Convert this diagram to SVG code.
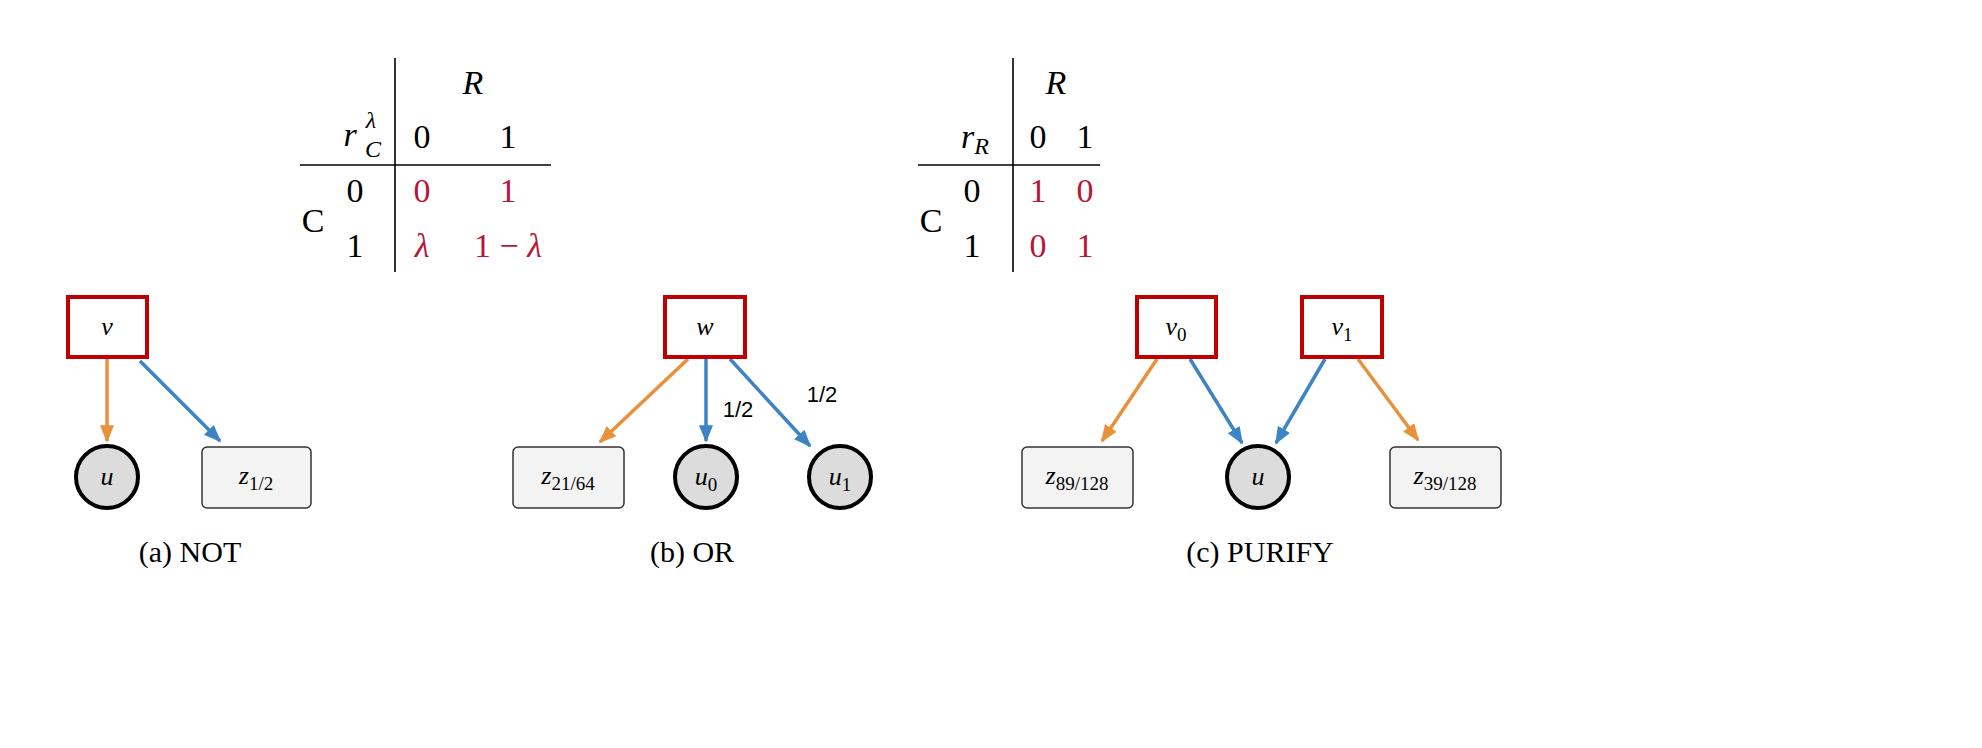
<svg xmlns="http://www.w3.org/2000/svg" width="1982" height="748" viewBox="0 0 1982 748">
<style>
text{font-family:"Liberation Serif","DejaVu Serif",serif;fill:#000;text-anchor:middle}
.t{font-size:34px}
.r{fill:#b5173a}
.i{font-style:italic}
.n{font-size:26px}
.s{font-size:19px;font-style:normal}
.cap{font-size:30px}
.lab{font-family:"Liberation Sans","DejaVu Sans",sans-serif;font-size:22px}
.ln{stroke:#000;stroke-width:1.6}
.red{fill:#fff;stroke:#c00000;stroke-width:4}
.circ{fill:#dcdcdc;stroke:#000;stroke-width:4}
.z{fill:#f3f3f3;stroke:#333;stroke-width:1.5}
.o{stroke:#e8913a;stroke-width:3.5;fill:none;marker-end:url(#ao)}
.b{stroke:#3c84c4;stroke-width:3.5;fill:none;marker-end:url(#ab)}
</style>
<defs>
<marker id="ao" viewBox="0 0 10 10" refX="9" refY="5" markerWidth="5" markerHeight="5" orient="auto" markerUnits="strokeWidth"><path d="M0,1 L10,5 L0,9 z" fill="#e8913a"/></marker>
<marker id="ab" viewBox="0 0 10 10" refX="9" refY="5" markerWidth="5" markerHeight="5" orient="auto" markerUnits="strokeWidth"><path d="M0,1 L10,5 L0,9 z" fill="#3c84c4"/></marker>
</defs>
<g id="table1">
<line class="ln" x1="395" y1="58" x2="395" y2="272"/>
<line class="ln" x1="300" y1="165" x2="551" y2="165"/>
<text class="t i" x="473" y="94">R</text>
<text class="t i" x="350" y="146">r</text>
<text class="i" x="371" y="128" font-size="24">λ</text>
<text class="i" x="373" y="157" font-size="24">C</text>
<text class="t" x="422" y="148">0</text>
<text class="t" x="508" y="148">1</text>
<text class="t" x="313" y="232">C</text>
<text class="t" x="355" y="202">0</text>
<text class="t" x="355" y="257">1</text>
<text class="t r" x="422" y="202">0</text>
<text class="t r" x="508" y="202">1</text>
<text class="t r i" x="422" y="257">λ</text>
<text class="t r" x="508" y="257">1 − <tspan font-style="italic">λ</tspan></text>
</g>
<g id="table2">
<line class="ln" x1="1013" y1="58" x2="1013" y2="272"/>
<line class="ln" x1="918" y1="165" x2="1100" y2="165"/>
<text class="t i" x="1056" y="94">R</text>
<text class="t i" x="975" y="148">r<tspan font-size="24" dy="6">R</tspan></text>
<text class="t" x="1038" y="148">0</text>
<text class="t" x="1085" y="148">1</text>
<text class="t" x="931" y="232">C</text>
<text class="t" x="972" y="202">0</text>
<text class="t" x="972" y="257">1</text>
<text class="t r" x="1038" y="202">1</text>
<text class="t r" x="1085" y="202">0</text>
<text class="t r" x="1038" y="257">0</text>
<text class="t r" x="1085" y="257">1</text>
</g>
<g id="connectors">
<line class="o" x1="107" y1="359" x2="107" y2="441"/>
<line class="b" x1="140" y1="361" x2="220" y2="441"/>
<line class="o" x1="688" y1="359" x2="600" y2="442"/>
<line class="b" x1="706" y1="359" x2="706" y2="441"/>
<line class="b" x1="730" y1="359" x2="810" y2="446"/>
<line class="o" x1="1157" y1="359" x2="1102" y2="441"/>
<line class="b" x1="1190" y1="359" x2="1242" y2="443"/>
<line class="b" x1="1325" y1="359" x2="1276" y2="443"/>
<line class="o" x1="1358" y1="359" x2="1418" y2="440"/>
<text class="lab" x="738" y="417">1/2</text>
<text class="lab" x="822" y="402">1/2</text>
</g>
<g id="v"><rect class="red" x="68" y="297" width="79" height="60"/><text class="n i" x="107" y="335">v</text></g>
<g id="u"><circle class="circ" cx="107" cy="477" r="31"/><text class="n i" x="107" y="485">u</text></g>
<g id="z12"><rect class="z" x="202" y="447" width="109" height="61" rx="5"/><text class="n i" x="256" y="484">z<tspan class="s" dy="6">1/2</tspan></text></g>
<g id="w"><rect class="red" x="665" y="297" width="80" height="60"/><text class="n i" x="705" y="335">w</text></g>
<g id="z2164"><rect class="z" x="513" y="447" width="111" height="61" rx="5"/><text class="n i" x="568" y="484">z<tspan class="s" dy="6">21/64</tspan></text></g>
<g id="u0"><circle class="circ" cx="706" cy="477" r="31"/><text class="n i" x="706" y="485">u<tspan class="s" dy="6">0</tspan></text></g>
<g id="u1"><circle class="circ" cx="840" cy="477" r="31"/><text class="n i" x="840" y="485">u<tspan class="s" dy="6">1</tspan></text></g>
<g id="v0"><rect class="red" x="1137" y="297" width="79" height="60"/><text class="n i" x="1176" y="335">v<tspan class="s" dy="6">0</tspan></text></g>
<g id="v1"><rect class="red" x="1302" y="297" width="80" height="60"/><text class="n i" x="1342" y="335">v<tspan class="s" dy="6">1</tspan></text></g>
<g id="z89"><rect class="z" x="1022" y="447" width="111" height="61" rx="5"/><text class="n i" x="1077" y="484">z<tspan class="s" dy="6">89/128</tspan></text></g>
<g id="uc"><circle class="circ" cx="1258" cy="477" r="31"/><text class="n i" x="1258" y="485">u</text></g>
<g id="z39"><rect class="z" x="1390" y="447" width="111" height="61" rx="5"/><text class="n i" x="1445" y="484">z<tspan class="s" dy="6">39/128</tspan></text></g>
<g id="captions">
<text class="cap" x="190" y="562">(a) NOT</text>
<text class="cap" x="692" y="562">(b) OR</text>
<text class="cap" x="1260" y="562">(c) PURIFY</text>
</g>
</svg>
